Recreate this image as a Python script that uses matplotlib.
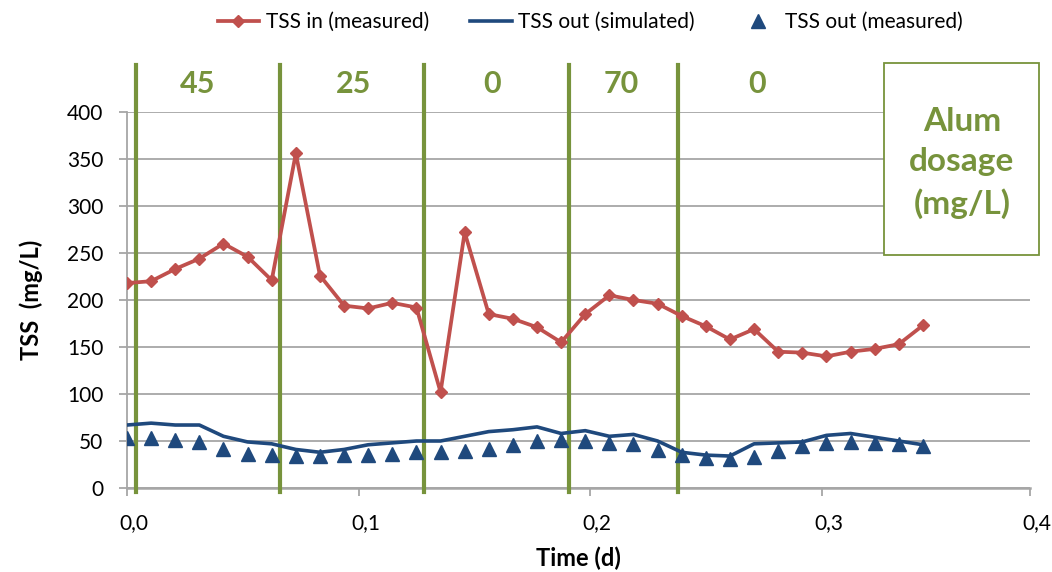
import matplotlib
matplotlib.use("Agg")
import matplotlib.pyplot as plt
from matplotlib.patches import Rectangle
from matplotlib.transforms import ScaledTranslation

plt.rcParams['font.family'] = ['Lato', 'DejaVu Sans']

# ---- data -----------------------------------------------------------
time_d = [i / 96 for i in range(34)]  # 15-minute sampling

tss_in_measured = [218, 220, 233, 244, 260, 246, 221, 356, 226, 194,
                   191, 197, 192, 102, 272, 185, 180, 171, 155, 185,
                   205, 200, 196, 183, 172, 158, 169, 145, 144, 140,
                   145, 148, 153, 173]

tss_out_simulated = [67, 69, 67, 67, 55, 49, 47, 41, 38, 41,
                     46, 48, 50, 50, 55, 60, 62, 65, 58, 61,
                     55, 57, 50, 38, 35, 34, 47, 48, 49, 56,
                     58, 54, 50, 46]

tss_out_measured = [53, 53, 51.5, 49, 42, 36, 35, 34.5, 34.5, 35.5,
                    35.5, 36.5, 38, 38.5, 39.5, 41.5, 45.5, 49.5, 51.5, 50,
                    48, 46.5, 40, 35, 31.5, 30.5, 33.5, 39.5, 44.5, 48,
                    48.5, 48, 46.5, 44.5]

dose_switch_times = [0.0039, 0.0662, 0.1282, 0.1907, 0.2380]
dose_label_times = [0.0305, 0.0977, 0.1575, 0.2133, 0.272]
dose_labels = ["45", "25", "0", "70", "0"]

x_ticks = [0.0, 0.1, 0.2, 0.3, 0.39]
x_tick_labels = ["0,0", "0,1", "0,2", "0,3", "0,4"]
y_ticks = [0, 50, 100, 150, 200, 250, 300, 350, 400]

# ---- styling --------------------------------------------------------
RED = "#C0504D"
BLUE = "#1F497D"
GREEN = "#77933C"
GRID = "#A6A6A6"

fig = plt.figure(figsize=(10.52, 5.72), dpi=100)
ax = fig.add_axes([127 / 1052, 1 - 488 / 572, (1030 - 127) / 1052, (488 - 112) / 572])

ax.plot(time_d, tss_in_measured, color=RED, lw=2.7, marker="D", ms=6.5,
        label="TSS in (measured)", zorder=4)
ax.plot(time_d, tss_out_simulated, color=BLUE, lw=2.6,
        label="TSS out (simulated)", zorder=4)
ax.plot(time_d, tss_out_measured, color=BLUE, lw=0, marker="^", ms=9.5,
        label="TSS out (measured)", zorder=4)

ax.set_xlim(0, 0.39)
ax.set_ylim(0, 400)
ax.set_yticks(y_ticks)
ax.set_xticks(x_ticks)
ax.set_xticklabels(x_tick_labels)
ax.yaxis.grid(True, color=GRID, lw=1.3)
ax.set_axisbelow(True)
for s in ["top", "right"]:
    ax.spines[s].set_visible(False)
ax.spines["left"].set_color(GRID)
ax.spines["bottom"].set_color(GRID)
ax.spines["left"].set_linewidth(1.3)
ax.spines["bottom"].set_linewidth(1.8)
ax.tick_params(axis="y", length=6, width=1.3, color=GRID, pad=11, labelsize=15)
ax.tick_params(axis="x", length=6, width=1.3, color=GRID, pad=12, labelsize=15)

off = ScaledTranslation(7 / 100, 0, fig.dpi_scale_trans)
for lab in ax.get_xticklabels():
    lab.set_transform(lab.get_transform() + off)

ax.set_xlabel("Time (d)", fontsize=17, fontweight="bold", labelpad=10)
ax.set_ylabel("TSS  (mg/L)", fontsize=17, fontweight="bold", labelpad=17)

# alum dosage switch lines
for t in dose_switch_times:
    ax.axvline(t, ymin=-0.01, ymax=1.125, color=GREEN, lw=3, clip_on=False, zorder=3)
for t, lab in zip(dose_label_times, dose_labels):
    ax.text(t, 1.075, lab, transform=ax.get_xaxis_transform(), ha="center", va="center",
            fontsize=22, fontweight="bold", color=GREEN)

# text box
box = Rectangle((884 / 1052, 1 - 255 / 572), (1039 - 884) / 1052, (255 - 63) / 572,
                transform=fig.transFigure, facecolor="white", edgecolor=GREEN, lw=1.3, zorder=5)
fig.patches.append(box)
fig.text(962 / 1052, 1 - 163 / 572, "Alum\ndosage\n(mg/L)", ha="center", va="center",
         fontsize=24, fontweight="bold", color=GREEN, linespacing=1.45, zorder=6)

fig.legend(loc="center", bbox_to_anchor=(590 / 1052, 1 - 22 / 572), ncol=3, frameon=False,
           fontsize=15, handlelength=2.0, columnspacing=2.0, handletextpad=0.3)

fig.savefig("out.png", dpi=100)
